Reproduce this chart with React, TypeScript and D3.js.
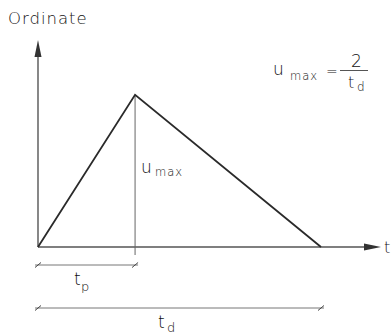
import React from "react";
import * as d3 from "d3";

const times = [0, 0.343, 1];
const values = [0, 2, 0];
const xDomain = [0, 1.212];
const yDomain = [0, 2.72];
const labels = { y: "Ordinate", x: "t" };

const W = 391;
const H = 334;

export default function App() {
  const x = d3.scaleLinear().domain(xDomain).range([38, 381]);
  const y = d3.scaleLinear().domain(yDomain).range([247, 40]);
  const pts: [number, number][] = times.map((t, i) => [x(t), y(values[i])]);
  const line = d3.line<[number, number]>().x((d) => d[0]).y((d) => d[1]);
  const x0 = x(0);
  const y0 = y(0);
  const xp = x(times[1]);
  const xd = x(times[2]);
  const yPeak = y(values[1]);
  const font = "'DejaVu Sans', sans-serif";
  const txt = "#111";
  const slash = (cx: number, cy: number) => (
    <line x1={cx - 3} y1={cy + 2.5} x2={cx + 3} y2={cy - 2.5} stroke="#444" strokeWidth={1} />
  );
  return (
    <svg width={W} height={H} style={{ position: "absolute", left: 0, top: 0, background: "#fff" }} fontFamily={font}>
      <text x={8} y={24} fontSize={16.5} fill={txt} fontWeight={200} letterSpacing={1}>{labels.y}</text>
      {/* y axis */}
      <line x1={x0} y1={y0} x2={x0} y2={y(yDomain[1]) + 14} stroke="#555" strokeWidth={1.4} />
      <path d={`M${x0},${y(yDomain[1])} L${x0 - 3.5},${y(yDomain[1]) + 17} L${x0 + 3.5},${y(yDomain[1]) + 17} Z`} fill="#333" />
      {/* x axis */}
      <line x1={x0} y1={y0} x2={x(xDomain[1]) - 14} y2={y0} stroke="#555" strokeWidth={1.4} />
      <path d={`M${x(xDomain[1])},${y0} L${x(xDomain[1]) - 17},${y0 - 3.5} L${x(xDomain[1]) - 17},${y0 + 3.5} Z`} fill="#333" />
      <text x={384} y={253} fontSize={16} fill={txt} fontWeight={200}>{labels.x}</text>
      {/* vertical at peak */}
      <line x1={xp} y1={yPeak} x2={xp} y2={y0 + 8} stroke="#666" strokeWidth={1} />
      {/* triangle */}
      <path d={line(pts) || ""} fill="none" stroke="#2a2a2a" strokeWidth={1.8} />
      {/* umax label */}
      <text x={141} y={173} fontSize={17} fill={txt} fontWeight={200}>u</text>
      <text x={155} y={176} fontSize={11.5} fill={txt} fontWeight={200} letterSpacing={1}>max</text>
      {/* formula */}
      <text x={273} y={75} fontSize={17} fill={txt} fontWeight={200}>u</text>
      <text x={290} y={80} fontSize={11.5} fill={txt} fontWeight={200} letterSpacing={1}>max</text>
      <text x={326} y={76} fontSize={14} fill={txt} fontWeight={200}>=</text>
      <line x1={340} y1={70.5} x2={368} y2={70.5} stroke="#555" strokeWidth={1} />
      <text x={351} y={67} fontSize={17} fill={txt} fontWeight={200}>2</text>
      <text x={348} y={88} fontSize={16} fill={txt} fontWeight={200}>t</text>
      <text x={357} y={91} fontSize={12} fill={txt} fontWeight={200}>d</text>
      {/* tp dimension */}
      <line x1={x0 - 3} y1={265} x2={xp + 3} y2={265} stroke="#777" strokeWidth={1} />
      {slash(x0, 265)}
      {slash(xp, 265)}
      <text x={74} y={285} fontSize={17} fill={txt} fontWeight={200}>t</text>
      <text x={81} y={291} fontSize={13} fill={txt} fontWeight={200}>p</text>
      {/* td dimension */}
      <line x1={x0 - 3} y1={308} x2={xd + 3} y2={308} stroke="#777" strokeWidth={1} />
      {slash(x0, 308)}
      {slash(xd, 308)}
      <text x={158} y={328} fontSize={17} fill={txt} fontWeight={200}>t</text>
      <text x={167} y={332} fontSize={13} fill={txt} fontWeight={200}>d</text>
    </svg>
  );
}
